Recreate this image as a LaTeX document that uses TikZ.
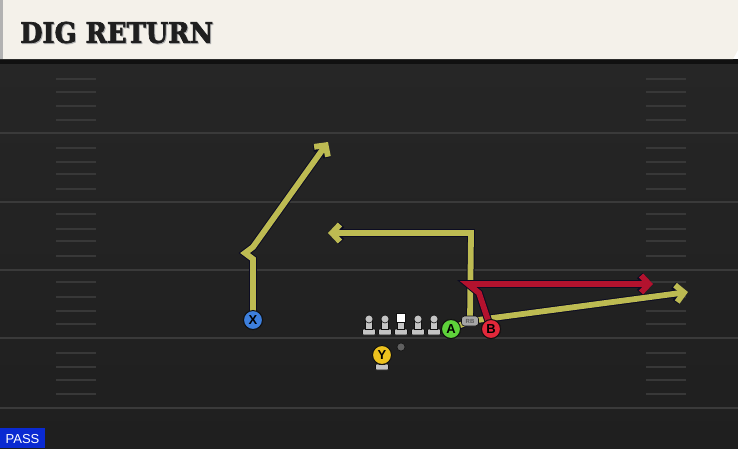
\documentclass[tikz,border=0pt]{standalone}
\usepackage{fontspec}
\setmainfont{Liberation Sans}
\newfontfamily\titlefont{DejaVu Serif}[BoldFeatures={FakeBold=2.5}]
\usetikzlibrary{arrows.meta}
\definecolor{field}{HTML}{262626}
\definecolor{fieldb}{HTML}{1F1F1F}
\definecolor{yardc}{HTML}{3A3A3A}
\definecolor{hashc}{HTML}{383838}
\definecolor{cream}{HTML}{F4F1EA}
\definecolor{outl}{HTML}{101010}
\definecolor{routl}{HTML}{0C0C22}
\definecolor{ylw}{HTML}{BDBB52}
\definecolor{rd}{HTML}{B3122E}
\definecolor{xblue}{HTML}{3D7FDC}
\definecolor{yyel}{HTML}{EDC21E}
\definecolor{agrn}{HTML}{5ED23A}
\definecolor{bred}{HTML}{E2283A}
\definecolor{fig}{HTML}{C4C4C4}
\definecolor{passblue}{HTML}{0A2AD2}
\tikzset{
  yard/.style={draw=yardc, line width=2pt},
  hash/.style={draw=hashc, line width=1.5pt},
  route/.style={line width=5.8pt, line cap=butt, line join=miter,
    preaction={draw=routl, line width=7.8pt}},
  yroute/.style={route, draw=ylw},
  rroute/.style={route, draw=rd},
  tipend/.style={-{Straight Barb[length=8pt,width=17pt]}},
  player/.style={circle, draw=outl, line width=1pt, minimum size=19pt, inner sep=0pt,
    font=\fontsize{13}{13}\selectfont\bfseries, text=black},
  rbtag/.style={inner sep=0pt, minimum width=17pt, minimum height=10pt, rounded corners=3pt,
    fill=gray!70, draw=outl, line width=0.6pt,
    font=\fontsize{6}{6}\selectfont\bfseries, text=black!65},
  lineman/.pic={
    \filldraw[fill=fig, draw=outl, line width=0.6pt, rounded corners=1pt] (-6.5,10) rectangle (6.5,16);
    \filldraw[fill=fig, draw=outl, line width=0.6pt] (-3.4,2) rectangle (3.4,10);
    \filldraw[fill=fig, draw=outl, line width=0.6pt] (0,0) circle (4);
  },
  centerman/.pic={
    \filldraw[fill=fig, draw=outl, line width=0.6pt, rounded corners=1pt] (-6.5,10) rectangle (6.5,16);
    \filldraw[fill=fig, draw=outl, line width=0.6pt] (-3.4,3) rectangle (3.4,10);
    \filldraw[fill=white, draw=outl, line width=0.6pt] (-4.5,-5.5) rectangle (4.5,3.4);
  },
}
\begin{document}
\begin{tikzpicture}[x=1pt,y=-1pt]
\useasboundingbox (0,0) rectangle (738,448);
% field
\shade[top color=field, bottom color=fieldb] (0,59) rectangle (738,448);
\fill[outl] (0,59) rectangle (738,64);
% yard lines
\foreach \y in {133,202,270,338,408} {
  \draw[yard] (0,\y) -- (738,\y);
}
% hash marks
\foreach \y in {79,92,106,120,148,162,174,189,214,229,241,256,282,297,311,324,353,367,380,394} {
  \draw[hash] (56,\y) -- (96,\y);
  \draw[hash] (646,\y) -- (686,\y);
}
% header
\fill[cream] (0,0) -- (738,0) -- (738,50) -- (733,59) -- (0,59) -- cycle;
\fill[gray!60] (0,0) rectangle (3,59);
\node[anchor=west, inner sep=0pt, text=gray!60] (titleshadow) at (21,33.5)
  {\resizebox{193pt}{21pt}{\titlefont\bfseries DIG RETURN}};
\node[anchor=west, inner sep=0pt, text=black!88] (title) at (20,32.5)
  {\resizebox{193pt}{21pt}{\titlefont\bfseries DIG RETURN}};
% players (nodes)
\node[player, fill=xblue] (X) at (253,320) {X};
\node[player, fill=agrn] (A) at (451,329) {A};
\node[player, fill=bred] (B) at (491,329) {B};
\node[rbtag] (RB) at (470,321) {RB};
\coordinate (x1) at (253,259);
\coordinate (x2) at (245,253);
\coordinate (x3) at (253,247);
\coordinate (xe) at (328,142);
\coordinate (a1) at (471,233);
\coordinate (ae) at (328,233);
\coordinate (re) at (688,292);
\coordinate (b1) at (479,293);
\coordinate (b2) at (468,284);
\coordinate (be) at (653,284);
% routes
\draw[yroute, tipend] (X.center) -- (x1) -- (x2) -- (x3) -- (xe);
\draw[yroute, tipend] (A.center) -- (RB.center) -- (re);
\draw[yroute, tipend] (RB.center) -- (a1) -- (ae);
\draw[rroute, tipend] (B.center) -- (b1) -- (b2) -- (be);
% redraw players on top
\node[player, fill=xblue] at (X) {X};
\node[rbtag] at (RB) {RB};
\node[player, fill=agrn] at (A) {A};
\node[player, fill=bred] at (B) {B};
% line
\pic (L1) at (369,319) {lineman};
\pic (L2) at (385,319) {lineman};
\pic (C) at (401,319) {centerman};
\pic (L4) at (418,319) {lineman};
\pic (L5) at (434,319) {lineman};
% Y and QB dot
\filldraw[fill=fig, draw=outl, line width=0.6pt, rounded corners=1pt] (375.5,364) rectangle (388.5,370);
\filldraw[fill=fig, draw=outl, line width=0.6pt] (379.5,360) rectangle (384.5,364);
\node[player, fill=yyel] (Y) at (382,355) {Y};
\node[circle, fill=gray!75!black, draw=outl, line width=0.5pt, minimum size=8pt, inner sep=0pt] (QB) at (401,347) {};
% PASS label
\fill[passblue] (0,428) rectangle (45,448);
\node[text=white, font=\fontsize{13}{13}\selectfont, inner sep=0pt] (pass) at (22.5,439) {PASS};
\end{tikzpicture}
\end{document}
